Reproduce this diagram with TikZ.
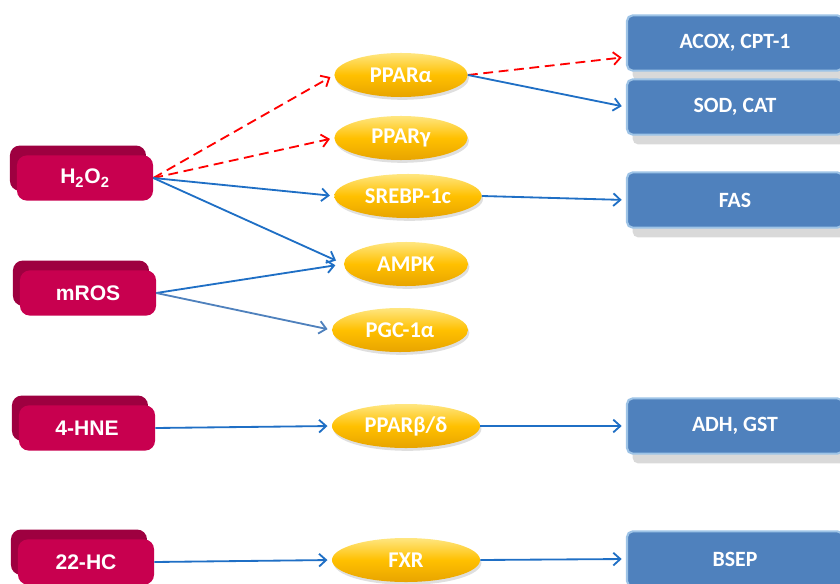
\documentclass[tikz,border=0pt]{standalone}
\usepackage{fontspec}
\setsansfont{Carlito}
\newfontfamily\arialish{Liberation Sans}
\usetikzlibrary{positioning,arrows.meta,shapes.geometric,shadows}
\definecolor{crimson}{HTML}{C8004F}
\definecolor{crimsontop}{HTML}{9E0040}
\definecolor{gold}{HTML}{FFC000}
\definecolor{goldlight}{HTML}{FFE680}
\definecolor{golddark}{HTML}{E8A400}
\definecolor{boxblue}{HTML}{4F81BD}
\definecolor{boxrim}{HTML}{9DC3E6}
\definecolor{linkblue}{HTML}{1F6FC5}

\begin{document}
\begin{tikzpicture}[x=0.025cm, y=-0.025cm, font=\sffamily\bfseries,
		src/.style={fill=crimson, text=white, rounded corners=7pt, minimum width=3.4cm, minimum height=1.13cm, font=\arialish\bfseries\fontsize{15}{18}\selectfont, general shadow={fill=crimsontop, shadow xshift=-5pt, shadow yshift=7pt}},
		fac/.style={ellipse, top color=goldlight, bottom color=golddark, middle color=gold, text=white, minimum width=3.4cm, minimum height=1.1cm, inner sep=0pt, font=\sffamily\bfseries\fontsize{16}{19}\selectfont, drop shadow={shadow xshift=1pt, shadow yshift=-2pt, opacity=.25}},
		tgt/.style={fill=boxblue, draw=boxrim, line width=1.5pt, text=white, rounded corners=4pt, minimum width=5.4cm, minimum height=1.38cm, font=\sffamily\bfseries\fontsize{15.5}{18}\selectfont, drop shadow={shadow xshift=4pt, shadow yshift=-7pt, opacity=.3}},
		act/.style={draw=linkblue, line width=1.3pt, -{Straight Barb[length=5pt, width=9pt]}, shorten >=3pt},
		pot/.style={act, draw=red, dash pattern=on 7pt off 4pt}]
	\useasboundingbox (0,0) rectangle (840,584);
	% inducers
	\node[src] (h2o2) at (85,178) {H\textsubscript{2}O\textsubscript{2}};
	\node[src] (mros) at (88,293) {mROS};
	\node[src] (hne) at (87,428) {4-HNE};
	\node[src] (hc) at (86,562) {22-HC};
	% sensors
	\node[fac, minimum width=3.33cm] (ppara) at (401,75) {PPARα};
	\node[fac, minimum width=3.33cm] (pparg) at (401,138) {PPARγ};
	\node[fac, minimum width=3.68cm] (srebp) at (408,196) {SREBP-1c};
	\node[fac, minimum width=3.1cm] (ampk) at (406,264) {AMPK};
	\node[fac] (pgc) at (400,330) {PGC-1α};
	\node[fac, minimum width=3.7cm] (ppard) at (406,426) {PPARβ/δ};
	\node[fac, minimum width=3.7cm] (fxr) at (406,560) {FXR};
	% targets
	\node[tgt] (acox) at (735,43) {ACOX, CPT-1};
	\node[tgt] (sod) at (735,107) {SOD, CAT};
	\node[tgt] (fas) at (735,200) {FAS};
	\node[tgt] (adh) at (735,426) {ADH, GST};
	\node[tgt] (bsep) at (735,559) {BSEP};
	% links
	\draw[pot] (h2o2.east) -- (ppara.west);
	\draw[pot] (h2o2.east) -- (pparg.west);
	\draw[act] (h2o2.east) -- (srebp.west);
	\draw[act, shorten >=6pt] (h2o2.east) -- (ampk.west);
	\draw[act, shorten >=6pt] (mros.east) -- (ampk.west);
	\draw[act, draw=boxblue] (mros.east) -- (pgc.west);
	\draw[pot] (ppara.east) -- ([yshift=-10pt]acox.west);
	\draw[act] (ppara.east) -- (sod.west);
	\draw[act] (srebp.east) -- (fas.west);
	\draw[act] (hne.east) -- (ppard.west);
	\draw[act] (ppard.east) -- (adh.west);
	\draw[act] (hc.east) -- (fxr.west);
	\draw[act] (fxr.east) -- (bsep.west);
\end{tikzpicture}
\end{document}
